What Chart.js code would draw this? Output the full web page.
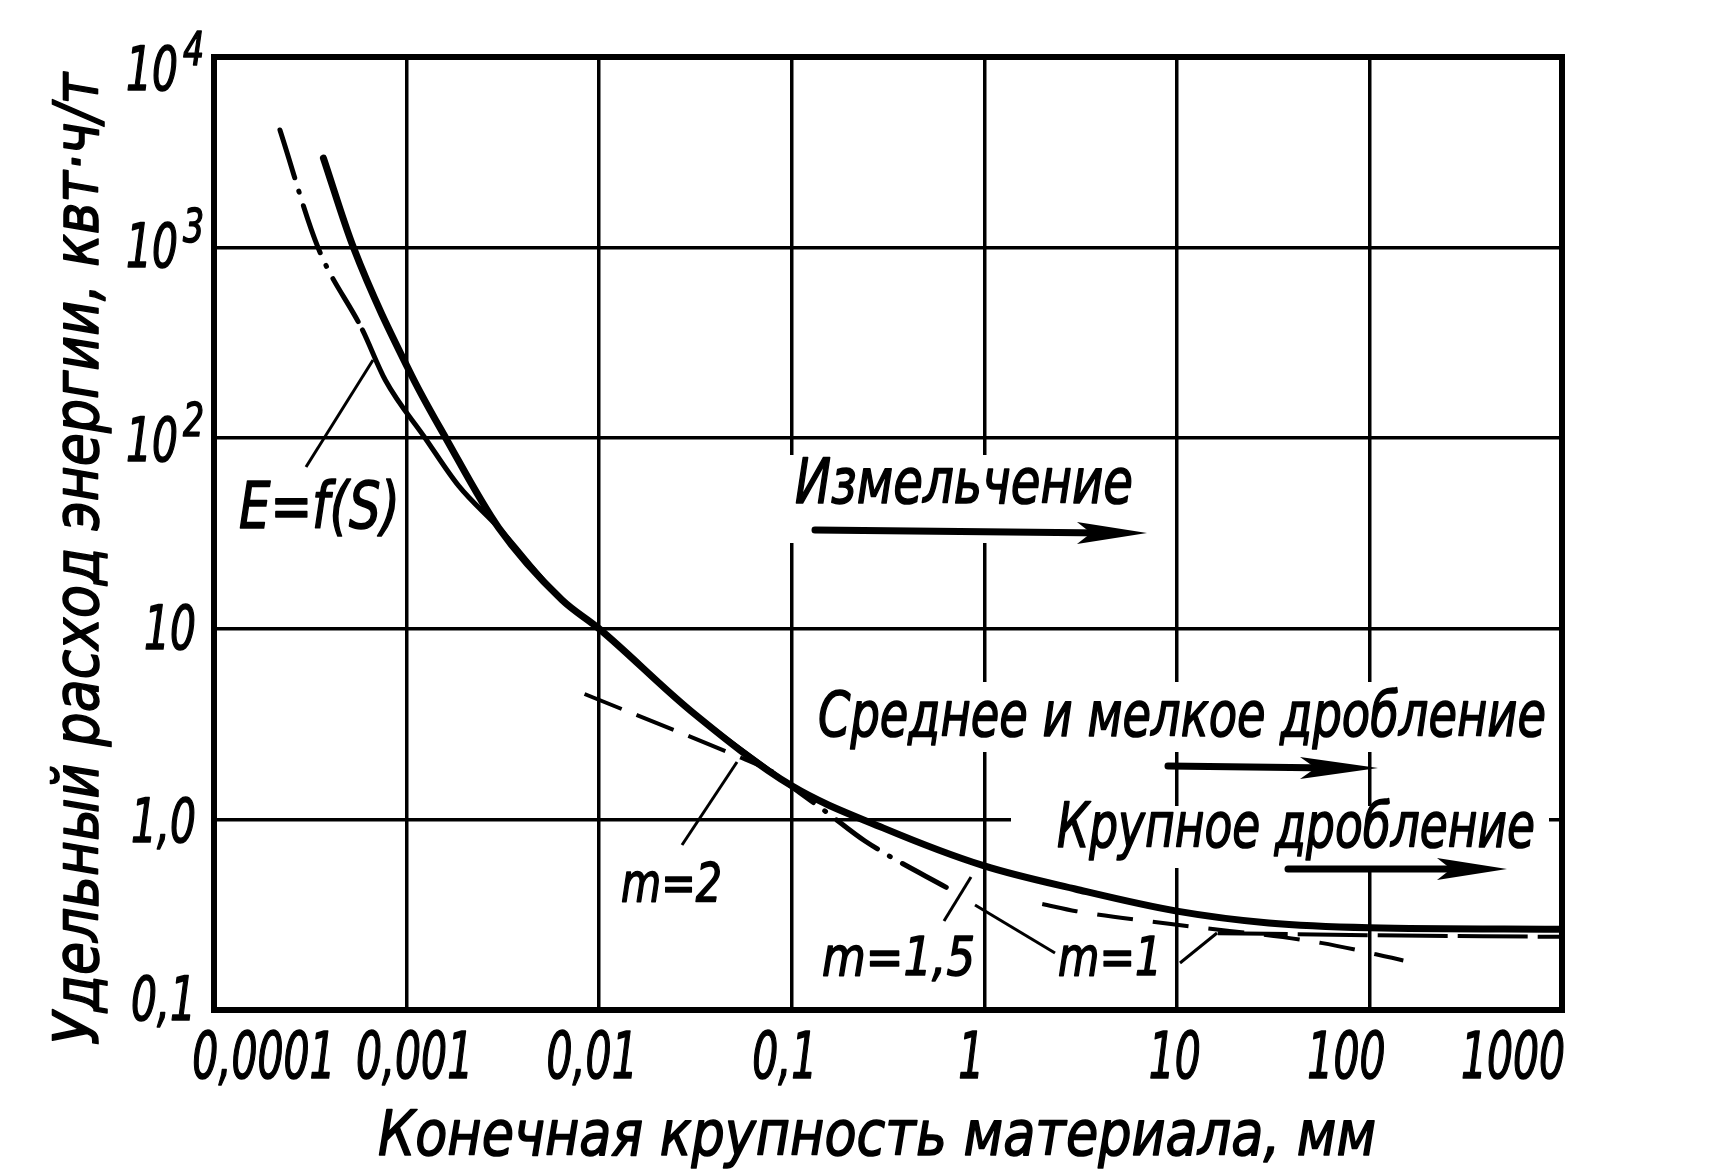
<!DOCTYPE html>
<html>
<head>
<meta charset="utf-8">
<script src="https://cdn.jsdelivr.net/npm/chart.js@4/dist/chart.umd.min.js"></script>
<style>
  html, body { margin: 0; background: #fff; }
  #wrap { width: 1714px; height: 1176px; }
</style>
</head>
<body>
<div id="wrap"><canvas id="chart"></canvas></div>
<script>
// axis ticks
const xTicks = [0.0001, 0.001, 0.01, 0.1, 1, 10, 100, 1000];
const xTickLabels = ["0,0001", "0,001", "0,01", "0,1", "1", "10", "100", "1000"];
const yTicks = [0.1, 1, 10, 100, 1000, 10000];
const yTickBase = ["0,1", "1,0", "10", "10", "10", "10"];
const yTickExp = ["", "", "", "2", "3", "4"];

// E = f(S), thick solid curve
const sizeMain = [0.00037, 0.00053, 0.00107, 0.0016, 0.003, 0.0064, 0.01, 0.03, 0.1, 0.3, 1, 3, 10, 30, 100, 1000];
const energyMain = [2950, 1000, 210, 100, 34, 14.2, 10, 3.7, 1.5, 0.9, 0.57, 0.43, 0.33, 0.286, 0.27, 0.265];

// dash-dot curve
const sizeDashDot = [0.00022, 0.000347, 0.00059, 0.000775, 0.00125, 0.00187, 0.003, 0.0064, 0.01, 0.03, 0.08, 0.15, 0.24, 0.72];
const energyDashDot = [4140, 1000, 370, 202, 100, 56, 34, 14.2, 10, 3.7, 1.75, 1.1, 0.77, 0.41];

// m = 2
const sizeM2 = [0.0084, 0.055, 0.08];
const energyM2 = [4.55, 2.1, 1.78];

// m = 1,5
const sizeM15 = [2.0, 3, 10, 56, 150];
const energyM15 = [0.36, 0.33, 0.28, 0.225, 0.182];

// m = 1
const sizeM1 = [16.3, 100, 1000];
const energyM1 = [0.253, 0.247, 0.242];

const pts = (xs, ys) => xs.map((x, i) => ({ x: x, y: ys[i] }));

const FONT = "'DejaVu Sans', 'Liberation Sans', sans-serif";
const DASHDOT = [50, 14, 1, 14];

// italic text squeezed horizontally, with a light outline to get the bold drafting stroke
function drawText(ctx, str, x, y, size, width, align, squeeze) {
  ctx.font = "italic " + size + "px " + FONT;
  const w = ctx.measureText(str).width;
  const sx = width ? width / w : (squeeze || 0.72);
  ctx.save();
  ctx.translate(x, y);
  ctx.scale(sx, 1);
  ctx.textAlign = align || "left";
  ctx.textBaseline = "alphabetic";
  ctx.fillStyle = "#000";
  ctx.strokeStyle = "#000";
  ctx.lineWidth = 1.6;
  ctx.lineJoin = "round";
  ctx.fillText(str, 0, 0);
  ctx.strokeText(str, 0, 0);
  ctx.restore();
}

function arrow(ctx, x0, y0, x1, y1, head) {
  ctx.save();
  ctx.strokeStyle = "#000";
  ctx.fillStyle = "#000";
  ctx.lineWidth = 7;
  ctx.lineCap = "round";
  ctx.beginPath();
  ctx.moveTo(x0, y0);
  ctx.lineTo(x1 - head * 0.6, y1);
  ctx.stroke();
  ctx.beginPath();
  ctx.moveTo(x1, y1);
  ctx.lineTo(x1 - head, y1 - 11);
  ctx.lineTo(x1 - head * 0.8, y1);
  ctx.lineTo(x1 - head, y1 + 11);
  ctx.closePath();
  ctx.fill();
  ctx.restore();
}

function leader(ctx, x0, y0, x1, y1) {
  ctx.save();
  ctx.strokeStyle = "#000";
  ctx.lineWidth = 3;
  ctx.beginPath();
  ctx.moveTo(x0, y0);
  ctx.lineTo(x1, y1);
  ctx.stroke();
  ctx.restore();
}

const annotations = {
  id: "annotations",
  beforeDatasetsDraw(chart) {
    const ctx = chart.ctx;
    ctx.save();
    ctx.fillStyle = "#fff";
    ctx.fillRect(787, 455, 360, 88);     // Измельчение
    ctx.fillRect(810, 682, 742, 70);     // Среднее и мелкое дробление
    ctx.fillRect(1011, 806, 538, 62);    // Крупное дробление
    ctx.fillRect(612, 860, 116, 46);     // m=2
    ctx.fillRect(818, 928, 162, 52);     // m=1,5
    ctx.restore();
  },
  afterDraw(chart) {
    const ctx = chart.ctx;
    const a = chart.chartArea;
    const xs = chart.scales.x, ys = chart.scales.y;

    // frame
    ctx.save();
    ctx.strokeStyle = "#000";
    ctx.lineWidth = 6;
    ctx.strokeRect(a.left, a.top, a.right - a.left, a.bottom - a.top);
    ctx.restore();

    // x tick labels
    const xShift = [50, 8, -7, -7, -13, -2, -23, -49];
    xTicks.forEach((v, i) => {
      const px = xs.getPixelForValue(v) + xShift[i];
      drawText(ctx, xTickLabels[i], px, a.bottom + 68, 64, null, "center", 0.64);
    });

    // y tick labels
    const yShift = [10, 23, 20, 23, 19, 33];
    yTicks.forEach((v, i) => {
      const py = ys.getPixelForValue(v) + yShift[i];
      if (yTickExp[i]) {
        drawText(ctx, yTickBase[i], a.left - 36, py, 60, null, "right", 0.68);
        drawText(ctx, yTickExp[i], a.left - 31, py - 25, 46, null, "left", 0.72);
      } else {
        drawText(ctx, yTickBase[i], a.left - 18, py, 60, null, "right", 0.68);
      }
    });

    // axis titles
    drawText(ctx, "Конечная крупность материала, мм", 877, 1155, 62, 998, "center");
    ctx.save();
    ctx.translate(98, 559);
    ctx.rotate(-Math.PI / 2);
    drawText(ctx, "Удельный расход энергии, квт·ч/т", 0, 0, 62, 972, "center");
    ctx.restore();

    // process labels and arrows
    drawText(ctx, "Измельчение", 795, 503, 62, 338, "left");
    arrow(ctx, 815, 530, 1147, 533, 70);
    drawText(ctx, "Среднее и мелкое дробление", 818, 736, 62, 728, "left");
    arrow(ctx, 1168, 766, 1378, 768, 78);
    drawText(ctx, "Крупное дробление", 1057, 847, 62, 478, "left");
    arrow(ctx, 1288, 869, 1507, 869, 70);

    // curve labels and leaders
    drawText(ctx, "E=f(S)", 239, 528, 64, 161, "left");
    leader(ctx, 306, 467, 373, 360);
    drawText(ctx, "m=2", 621, 901, 54, 101, "left");
    leader(ctx, 682, 845, 737, 762);
    drawText(ctx, "m=1,5", 822, 975, 54, 153, "left");
    leader(ctx, 944, 921, 971, 877);
    drawText(ctx, "m=1", 1058, 975, 54, 104, "left");
    leader(ctx, 975, 905, 1055, 953);
    leader(ctx, 1180, 963, 1217, 933);
  }
};

const ctx = document.getElementById("chart").getContext("2d");
new Chart(ctx, {
  type: "line",
  data: {
    datasets: [
      {
        label: "E=f(S)",
        data: pts(sizeMain, energyMain),
        borderColor: "#000",
        borderWidth: 7,
        borderCapStyle: "round"
      },
      {
        label: "штрихпунктир",
        data: pts(sizeDashDot, energyDashDot),
        borderColor: "#000",
        borderWidth: 5,
        borderCapStyle: "round",
        segment: {
          borderDash: (c) => (c.p0DataIndex < 2 || c.p0DataIndex >= 10) ? DASHDOT : []
        }
      },
      {
        label: "m=2",
        data: pts(sizeM2, energyM2),
        borderColor: "#000",
        borderWidth: 4,
        borderDash: [40, 16]
      },
      {
        label: "m=1,5",
        data: pts(sizeM15, energyM15),
        borderColor: "#000",
        borderWidth: 4,
        borderDash: [36, 20]
      },
      {
        label: "m=1",
        data: pts(sizeM1, energyM1),
        borderColor: "#000",
        borderWidth: 4,
        borderDash: [70, 10]
      }
    ]
  },
  options: {
    responsive: true,
    maintainAspectRatio: false,
    animation: false,
    layout: { padding: { left: 214, right: 152, top: 57, bottom: 166 } },
    elements: {
      point: { radius: 0 },
      line: { tension: 0.4, cubicInterpolationMode: "monotone", fill: false }
    },
    plugins: {
      legend: { display: false },
      tooltip: { enabled: false }
    },
    scales: {
      x: {
        type: "logarithmic",
        min: 0.0001,
        max: 1000,
        afterBuildTicks: (axis) => { axis.ticks = xTicks.map(v => ({ value: v })); },
        ticks: { display: false },
        grid: { color: "#000", lineWidth: 3.5, drawTicks: false },
        border: { display: false }
      },
      y: {
        type: "logarithmic",
        min: 0.1,
        max: 10000,
        afterBuildTicks: (axis) => { axis.ticks = yTicks.map(v => ({ value: v })); },
        ticks: { display: false },
        grid: { color: "#000", lineWidth: 3.5, drawTicks: false },
        border: { display: false }
      }
    }
  },
  plugins: [annotations]
});
</script>
</body>
</html>
